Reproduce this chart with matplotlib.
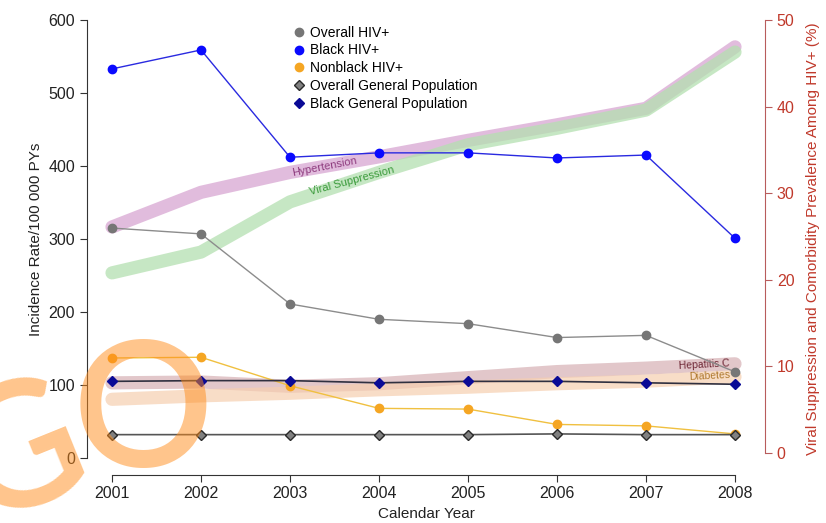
import numpy as np
import matplotlib
matplotlib.use("Agg")
import matplotlib.pyplot as plt

plt.rcParams.update({"font.family": ["Liberation Sans", "DejaVu Sans"], "font.size": 11})

years = [2001, 2002, 2003, 2004, 2005, 2006, 2007, 2008]

# incidence rates per 100 000 PYs (left axis)
overall_hiv = [315, 307, 211, 190, 184, 165, 168, 118]
black_hiv = [533, 559, 412, 418, 418, 411, 415, 301]
nonblack_hiv = [137, 138, 99, 68, 67, 46, 44, 33]
overall_gen = [32, 32, 32, 32, 32, 33, 32, 32]
black_gen = [105, 106, 106, 103, 105, 105, 103, 101]

# prevalence among HIV+ in % (right axis)
hypertension = [26.1, 30.1, 32.4, 34.2, 36.1, 37.9, 39.8, 46.9]
viral_supp = [20.8, 23.2, 29.0, 32.4, 35.6, 37.5, 39.6, 46.3]
hepatitis_c = [8.1, 8.2, 7.7, 8.0, 8.7, 9.4, 9.8, 10.3]
diabetes = [6.2, 6.6, 6.9, 7.3, 7.6, 8.0, 8.3, 8.8]

fig = plt.figure(figsize=(8.26, 5.23), dpi=100)
W, H = 826, 523
ax = fig.add_axes([87 / W, 1 - 458 / H, (765 - 87) / W, (458 - 20) / H])
ax2 = ax.twinx()

RED = "#c0392b"
# thick translucent prevalence bands, drawn behind the incidence lines
bands = [(hypertension, "#d8a6d2", 0.75), (viral_supp, "#b4e0b0", 0.75),
         (hepatitis_c, "#cfa3a8", 0.6), (diabetes, "#f6cfb0", 0.7)]
for ys, col, a in bands:
    ax2.plot(years, ys, color=col, lw=9.5, alpha=a, solid_capstyle="round",
             solid_joinstyle="round", zorder=1)

ax2.text(2003.39, 33.0, "Hypertension", color="#8e3b7e", fontsize=8, rotation=11,
         ha="center", va="center", rotation_mode="anchor")
ax2.text(2003.70, 31.4, "Viral Suppression", color="#3a9a3a", fontsize=8, rotation=15,
         ha="center", va="center", rotation_mode="anchor")
ax2.text(2007.65, 10.2, "Hepatitis C", color="#6e2634", fontsize=7.5, rotation=3,
         ha="center", va="center", rotation_mode="anchor")
ax2.text(2007.71, 8.9, "Diabetes", color="#b07a30", fontsize=7.5, rotation=3,
         ha="center", va="center", rotation_mode="anchor")

ax.set_zorder(ax2.get_zorder() + 1)
ax.patch.set_visible(False)

ax.plot(years, overall_hiv, color="#8c8c8c", lw=1, marker="o", ms=6,
        mfc="#767676", mec="#767676", label="Overall HIV+", clip_on=False)
ax.plot(years, black_hiv, color="#2a2ae0", lw=1, marker="o", ms=6,
        mfc="#0a0aff", mec="#0a0aff", label="Black HIV+", clip_on=False)
ax.plot(years, nonblack_hiv, color="#f0c040", lw=1, marker="o", ms=6,
        mfc="#f5a623", mec="#f5a623", label="Nonblack HIV+", clip_on=False)
ax.plot(years, overall_gen, color="#555555", lw=1.2, marker="D", ms=5.5,
        mfc="#808080", mec="#2a2a2a", label="Overall General Population", clip_on=False)
ax.plot(years, black_gen, color="#303040", lw=1.2, marker="D", ms=5.5,
        mfc="#0a0a96", mec="#0a0a96", label="Black General Population", clip_on=False)

ax.set_xlim(2001 - 25 / 89, 2008 + 30 / 89)
ax.set_ylim(0, 600)
ax2.set_ylim(-5 / 8.66, 50)

for a in (ax, ax2):
    a.spines["top"].set_visible(False)
ax.spines["right"].set_visible(False)
ax2.spines["left"].set_visible(False)
ax2.spines["bottom"].set_visible(False)
ax.spines["bottom"].set_position(("outward", 12))
ax.spines["bottom"].set_bounds(2001, 2008)
ax.spines["left"].set_bounds(0, 600)
ax2.spines["right"].set_bounds(0, 50)
ax.spines["left"].set_color("#333333")
ax.spines["bottom"].set_color("#333333")
ax2.spines["right"].set_color("#b85c5c")

ax.set_xticks(years)
ax.set_yticks(range(0, 601, 100))
ax2.set_yticks(range(0, 51, 10))
ax.tick_params(axis="both", labelsize=11.5, colors="#333333", length=5, labelcolor="#222222")
ax2.tick_params(axis="y", labelsize=11.5, colors="#b85c5c", labelcolor=RED, length=5)

ax.set_xlabel("Calendar Year", fontsize=11, color="#222222", labelpad=4)
ax.set_ylabel("Incidence Rate/100 000 PYs", fontsize=11, color="#222222", labelpad=4)
ax2.set_ylabel("Viral Suppression and Comorbidity Prevalence Among HIV+ (%)",
               fontsize=11, color=RED, labelpad=8)

ax.legend(loc="upper left", bbox_to_anchor=(0.298, 1.0), frameon=False, fontsize=10,
          handlelength=0.6, handletextpad=0.5, labelspacing=0.28, borderaxespad=0)
for h in ax.get_legend().legend_handles:
    h.set_linestyle("none")

# overlay lettering in the lower-left corner
wm = dict(fontsize=126, color="#ff8c1a", alpha=0.5, fontweight="semibold",
          family=["Lato", "Liberation Sans"], ha="center", zorder=10)
fig.text(20 / W, 1 - 456 / H, "G", rotation=22, va="center", rotation_mode="anchor", **wm)
fig.text(143 / W, 1 - 467 / H, "O", va="baseline", **wm)

fig.savefig("out.png", dpi=100, facecolor="white")
